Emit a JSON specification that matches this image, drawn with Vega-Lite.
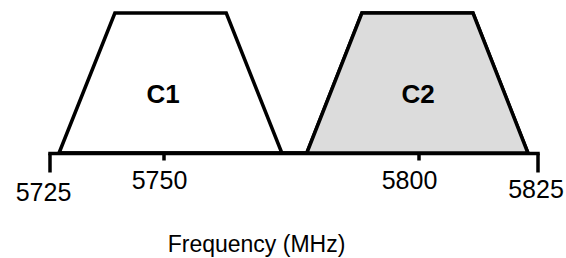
{
  "$schema": "https://vega.github.io/schema/vega-lite/v6.json",
  "width": 488,
  "height": 140,
  "autosize": {"type": "none"},
  "padding": {"left": 49.5, "top": 13, "right": 28.5, "bottom": 105},
  "background": "white",
  "config": {"view": {"stroke": null}, "font": "Liberation Sans"},
  "datasets": {
    "shapes": [
      {"channel": "C1", "freq": 5727.1, "level": 0},
      {"channel": "C1", "freq": 5739.4, "level": 1},
      {"channel": "C1", "freq": 5762.4, "level": 1},
      {"channel": "C1", "freq": 5773.3, "level": 0},
      {"channel": "C2", "freq": 5778.2, "level": 0},
      {"channel": "C2", "freq": 5789.0, "level": 1},
      {"channel": "C2", "freq": 5811.5, "level": 1},
      {"channel": "C2", "freq": 5823.0, "level": 0}
    ],
    "labels": [
      {"channel": "C1", "freq": 5750, "level": 0.354},
      {"channel": "C2", "freq": 5800, "level": 0.354}
    ]
  },
  "layer": [
    {
      "data": {"name": "shapes"},
      "mark": {"type": "area", "stroke": "black", "strokeWidth": 3.5, "strokeJoin": "miter", "opacity": 1, "fillOpacity": 1},
      "encoding": {
        "x": {
          "field": "freq", "type": "quantitative",
          "scale": {"domain": [5725, 5750, 5800, 5825], "range": [0, 113.5, 368.5, 488], "nice": false, "zero": false},
          "axis": {
            "values": [5725, 5750, 5800, 5825],
            "title": "Frequency (MHz)",
            "titleFont": "Liberation Sans",
            "titleFontSize": 23,
            "titleFontWeight": "normal",
            "titleColor": "black",
            "titleX": 206.5,
            "titleY": 98,
            "titleAlign": "center",
            "titleBaseline": "alphabetic",
            "titleAnchor": null,
            "grid": false,
            "domain": true,
            "domainColor": "black",
            "domainWidth": 3.5,
            "domainCap": "square",
            "ticks": true,
            "tickColor": "black",
            "tickWidth": 3.5,
            "tickSize": {"condition": {"test": "datum.value == 5725 || datum.value == 5825", "value": 19}, "value": 7},
            "labelFont": "Liberation Sans",
            "labelFontSize": 25,
            "labelColor": "black",
            "labelBaseline": "alphabetic",
            "labelPadding": {"condition": [
              {"test": "datum.value == 5725", "value": 28},
              {"test": "datum.value == 5825", "value": 25}
            ], "value": 28},
            "labelOffset": {"condition": [
              {"test": "datum.value == 5725", "value": -6.5},
              {"test": "datum.value == 5750", "value": -4},
              {"test": "datum.value == 5800", "value": -9},
              {"test": "datum.value == 5825", "value": -2}
            ], "value": 0},
            "labelFlush": false,
            "labelOverlap": false,
            "format": "d"
          }
        },
        "y": {"field": "level", "type": "quantitative", "scale": {"domain": [0, 1], "nice": false, "zero": false}, "axis": null},
        "color": {"field": "channel", "type": "nominal", "scale": {"domain": ["C1", "C2"], "range": ["#ffffff", "#dcdcdc"]}, "legend": null}
      }
    },
    {
      "data": {"name": "labels"},
      "mark": {"type": "text", "font": "Liberation Sans", "fontSize": 26, "fontWeight": "bold", "color": "black", "baseline": "alphabetic", "align": "center"},
      "encoding": {
        "x": {"field": "freq", "type": "quantitative"},
        "y": {"field": "level", "type": "quantitative"},
        "text": {"field": "channel", "type": "nominal"}
      }
    }
  ]
}
